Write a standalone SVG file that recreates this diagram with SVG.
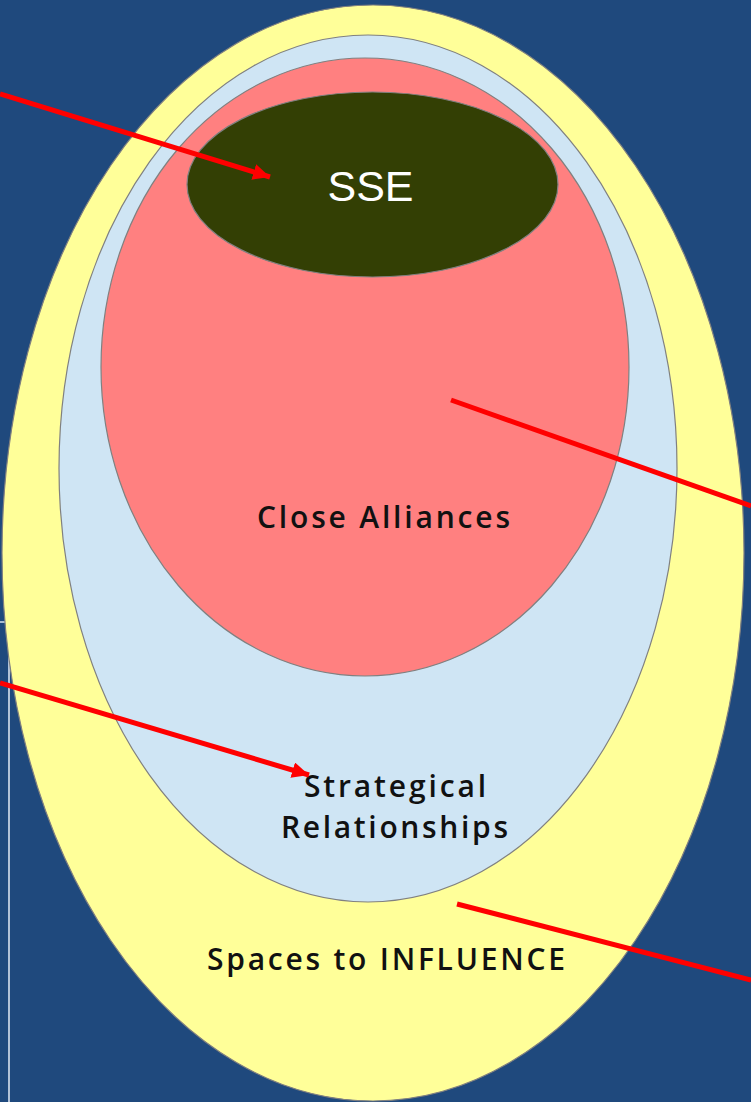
<svg xmlns="http://www.w3.org/2000/svg" width="751" height="1102" viewBox="0 0 751 1102">
  <style>
    .ring { stroke: #808080; stroke-width: 1.2; }
    .lbl { font-family: "Open Sans", "Liberation Sans", sans-serif; font-weight: 600; font-size: 30px; fill: #111111; }
    .sse { font-family: "Liberation Sans", Arial, sans-serif; font-size: 43px; fill: #ffffff; }
    .conn { stroke: #ff0000; stroke-width: 5; fill: none; stroke-linecap: butt; }
  </style>
  <defs>
    <marker id="arrow" markerUnits="userSpaceOnUse" markerWidth="20" markerHeight="18" refX="17" refY="8" orient="auto">
      <path d="M0,0 L17,8 L0,16 Z" fill="#ff0000"/>
    </marker>
  </defs>
  <rect x="0" y="0" width="751" height="1102" fill="#1f497d"/>
  <path d="M0,622 H9 V1102" fill="none" stroke="#d8e2ee" stroke-width="1.6"/>

  <g id="influence">
    <ellipse class="ring" cx="373" cy="553" rx="371" ry="548" fill="#ffff99"/>
    <text class="lbl" x="386" y="970" text-anchor="middle" textLength="358" lengthAdjust="spacing">Spaces to INFLUENCE</text>
  </g>
  <g id="strategical">
    <ellipse class="ring" cx="368" cy="468.5" rx="309" ry="433.5" fill="#cfe5f4"/>
    <text class="lbl" x="395" y="797" text-anchor="middle" textLength="182" lengthAdjust="spacing">Strategical</text>
    <text class="lbl" x="394.5" y="838" text-anchor="middle" textLength="227" lengthAdjust="spacing">Relationships</text>
  </g>
  <g id="alliances">
    <ellipse class="ring" cx="365" cy="367" rx="264" ry="309" fill="#ff8080"/>
    <text class="lbl" x="383.5" y="528" text-anchor="middle" textLength="253" lengthAdjust="spacing">Close Alliances</text>
  </g>
  <g id="sse">
    <ellipse class="ring" cx="372.5" cy="184.5" rx="185.5" ry="92.5" fill="#333f04"/>
    <text class="sse" x="370.5" y="201" text-anchor="middle">SSE</text>
  </g>

  <g id="connectors">
    <line class="conn" x1="0" y1="94" x2="270" y2="177" marker-end="url(#arrow)"/>
    <line class="conn" x1="451" y1="400" x2="751" y2="506"/>
    <line class="conn" x1="0" y1="683" x2="309" y2="775" marker-end="url(#arrow)"/>
    <line class="conn" x1="457" y1="904" x2="751" y2="980"/>
  </g>
</svg>
